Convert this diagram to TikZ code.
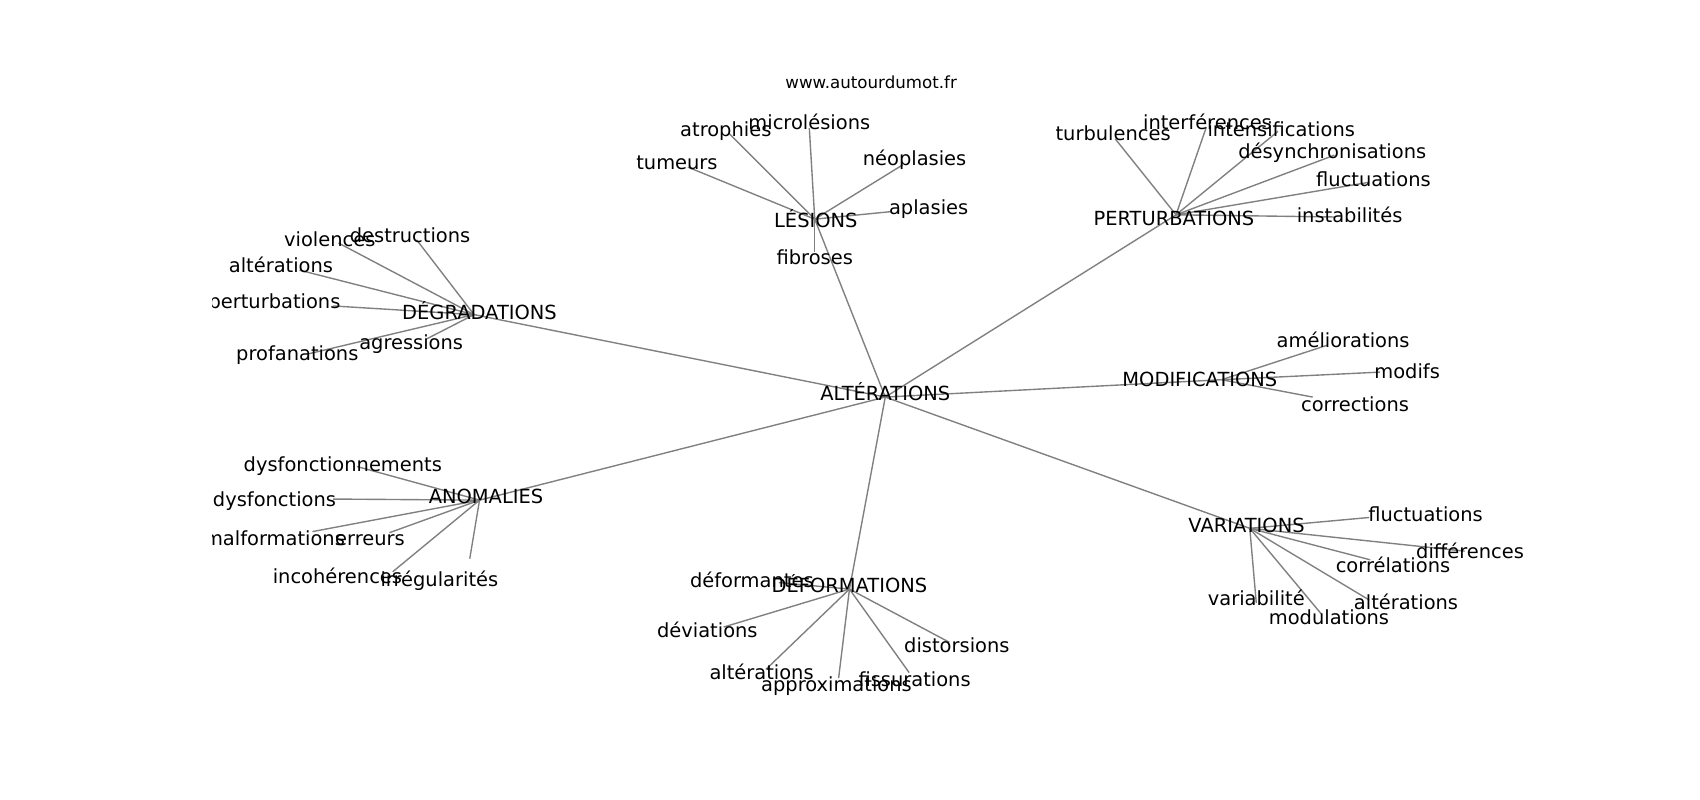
\documentclass[tikz,border=0pt]{standalone}
\usepackage{fontspec}
\setmainfont{DejaVu Sans}
\begin{document}
\begin{tikzpicture}[x=0.7812pt,y=-0.7812pt,
    link/.style={gray,line width=1pt},
    lbl/.style={inner sep=0pt,text height=10.2pt,text depth=0pt,font=\fontsize{14}{16}\selectfont},
    site/.style={inner sep=0pt,text height=8.7pt,text depth=0pt,font=\fontsize{12}{14}\selectfont}]
  \useasboundingbox (0,0) rectangle (1567,737);
  \node[site] (title) at (803,76) {www.autourdumot.fr};
  \begin{scope}
    \clip (196,88) rectangle (1410,656);
    % centres
    \coordinate (alt) at (816,366);
    \coordinate (les) at (751,202);
    \coordinate (pert) at (1084,198);
    \coordinate (degr) at (437,290);
    \coordinate (modif) at (1126,350);
    \coordinate (anom) at (442,461);
    \coordinate (deform) at (783,543);
    \coordinate (var) at (1152,487);
    \draw[link] (alt)--(les);
    \draw[link] (alt)--(pert);
    \draw[link] (alt)--(degr);
    \draw[link] (alt)--(modif);
    \draw[link] (alt)--(anom);
    \draw[link] (alt)--(deform);
    \draw[link] (alt)--(var);
    % lesions
    \draw[link] (les)--(634,154) coordinate (les-tum);
    \draw[link] (les)--(672,123) coordinate (les-atr);
    \draw[link] (les)--(746,118) coordinate (les-mic);
    \draw[link] (les)--(832,152) coordinate (les-neo);
    \draw[link] (les)--(822,195) coordinate (les-apl);
    \draw[link] (les)--(751,232) coordinate (les-fib);
    % perturbations
    \draw[link] (pert)--(1028,128) coordinate (pert-tur);
    \draw[link] (pert)--(1112,117) coordinate (pert-int);
    \draw[link] (pert)--(1178,121) coordinate (pert-ins);
    \draw[link] (pert)--(1230,143) coordinate (pert-des);
    \draw[link] (pert)--(1262,168) coordinate (pert-flu);
    \draw[link] (pert)--(1230,200) coordinate (pert-sta);
    % degradations
    \draw[link] (degr)--(312,224) coordinate (degr-vio);
    \draw[link] (degr)--(384,221) coordinate (degr-des);
    \draw[link] (degr)--(276,249) coordinate (degr-alt);
    \draw[link] (degr)--(307,282) coordinate (degr-per);
    \draw[link] (degr)--(285,326) coordinate (degr-pro);
    \draw[link] (degr)--(392,313) coordinate (degr-agr);
    % anomalies
    \draw[link] (anom)--(329,430) coordinate (anom-dfm);
    \draw[link] (anom)--(307,460) coordinate (anom-dfs);
    \draw[link] (anom)--(288,490) coordinate (anom-mal);
    \draw[link] (anom)--(359,491) coordinate (anom-err);
    \draw[link] (anom)--(362,527) coordinate (anom-inc);
    \draw[link] (anom)--(433,515) coordinate (anom-irr);
    % deformations
    \draw[link] (deform)--(718,537) coordinate (deform-dfa);
    \draw[link] (deform)--(667,578) coordinate (deform-dev);
    \draw[link] (deform)--(706,617) coordinate (deform-alt);
    \draw[link] (deform)--(773,625) coordinate (deform-app);
    \draw[link] (deform)--(838,620) coordinate (deform-fis);
    \draw[link] (deform)--(875,592) coordinate (deform-dis);
    % variations
    \draw[link] (var)--(1262,477) coordinate (var-flu);
    \draw[link] (var)--(1350,508) coordinate (var-dif);
    \draw[link] (var)--(1263,516) coordinate (var-cor);
    \draw[link] (var)--(1262,553) coordinate (var-alt);
    \draw[link] (var)--(1218,566) coordinate (var-mod);
    \draw[link] (var)--(1158,556) coordinate (var-vab);
    % modifications
    \draw[link] (modif)--(1224,318) coordinate (modif-ame);
    \draw[link] (modif)--(1272,343) coordinate (modif-mfs);
    \draw[link] (modif)--(1210,366) coordinate (modif-cor);
    % labels
    \node[lbl] (alt-t) at (816,363) {ALTÉRATIONS};
    \node[lbl] (les-t) at (752,203) {LÉSIONS};
    \node[lbl] (pert-t) at (1082,201) {PERTURBATIONS};
    \node[lbl] (degr-t) at (442,288) {DÉGRADATIONS};
    \node[lbl] (modif-t) at (1106,350) {MODIFICATIONS};
    \node[lbl] (anom-t) at (448,458) {ANOMALIES};
    \node[lbl] (deform-t) at (783,540) {DÉFORMATIONS};
    \node[lbl] (var-t) at (1149,484) {VARIATIONS};
    \node[lbl] (les-tum-t) at (624,150) {tumeurs};
    \node[lbl] (les-atr-t) at (669,119) {atrophies};
    \node[lbl] (les-mic-t) at (746,113) {microlésions};
    \node[lbl] (les-neo-t) at (843,146) {néoplasies};
    \node[lbl] (les-apl-t) at (856,191) {aplasies};
    \node[lbl] (les-fib-t) at (751,237) {fibroses};
    \node[lbl] (pert-tur-t) at (1026,123) {turbulences};
    \node[lbl] (pert-int-t) at (1113,113) {interférences};
    \node[lbl] (pert-ins-t) at (1181,119) {intensifications};
    \node[lbl] (pert-des-t) at (1228,140) {désynchronisations};
    \node[lbl] (pert-flu-t) at (1266,165) {fluctuations};
    \node[lbl] (pert-sta-t) at (1244,199) {instabilités};
    \node[lbl] (degr-vio-t) at (304,221) {violences};
    \node[lbl] (degr-des-t) at (378,217) {destructions};
    \node[lbl] (degr-alt-t) at (259,245) {altérations};
    \node[lbl] (degr-per-t) at (253,278) {perturbations};
    \node[lbl] (degr-pro-t) at (274,326) {profanations};
    \node[lbl] (degr-agr-t) at (379,316) {agressions};
    \node[lbl] (anom-dfm-t) at (316,428) {dysfonctionnements};
    \node[lbl] (anom-dfs-t) at (253,460) {dysfonctions};
    \node[lbl] (anom-mal-t) at (253,496) {malformations};
    \node[lbl] (anom-err-t) at (341,496) {erreurs};
    \node[lbl] (anom-inc-t) at (311,531) {incohérences};
    \node[lbl] (anom-irr-t) at (405,534) {irrégularités};
    \node[lbl] (deform-dfa-t) at (693,535) {déformantes};
    \node[lbl] (deform-dev-t) at (652,581) {déviations};
    \node[lbl] (deform-alt-t) at (702,620) {altérations};
    \node[lbl] (deform-app-t) at (771,631) {approximations};
    \node[lbl] (deform-fis-t) at (843,626) {fissurations};
    \node[lbl] (deform-dis-t) at (882,595) {distorsions};
    \node[lbl] (var-flu-t) at (1314,474) {fluctuations};
    \node[lbl] (var-dif-t) at (1355,508) {différences};
    \node[lbl] (var-cor-t) at (1284,521) {corrélations};
    \node[lbl] (var-alt-t) at (1296,555) {altérations};
    \node[lbl] (var-mod-t) at (1225,569) {modulations};
    \node[lbl] (var-vab-t) at (1158,552) {variabilité};
    \node[lbl] (modif-ame-t) at (1238,314) {améliorations};
    \node[lbl] (modif-mfs-t) at (1297,342) {modifs};
    \node[lbl] (modif-cor-t) at (1249,373) {corrections};
  \end{scope}
\end{tikzpicture}
\end{document}
